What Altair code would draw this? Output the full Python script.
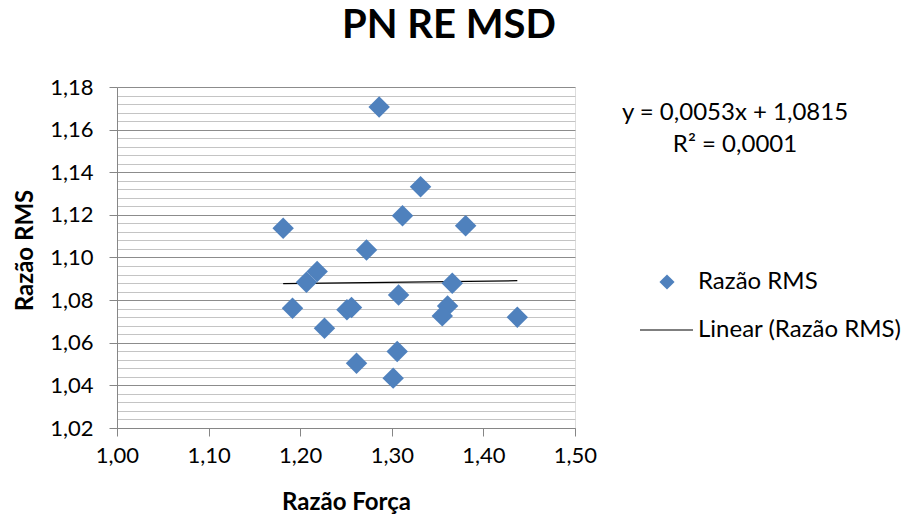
import altair as alt
import pandas as pd

# ---- data ----
forca = [1.2862, 1.3314, 1.3117, 1.3806, 1.1814, 1.2724, 1.2185, 1.2068,
         1.3660, 1.3074, 1.1916, 1.2510, 1.2560, 1.3609, 1.3551, 1.4370,
         1.2265, 1.3059, 1.2615, 1.3015]
rms = [1.1706, 1.1332, 1.1196, 1.1149, 1.1137, 1.1035, 1.0934, 1.0884,
       1.0879, 1.0824, 1.0762, 1.0755, 1.0765, 1.0773, 1.0726, 1.0720,
       1.0668, 1.0559, 1.0504, 1.0434]
slope = 0.0053
intercept = 1.0815
x_ticks = [1.00, 1.10, 1.20, 1.30, 1.40, 1.50]
y_ticks = [1.02, 1.04, 1.06, 1.08, 1.10, 1.12, 1.14, 1.16, 1.18]
y_minor = [round(1.02 + 0.004 * i, 3) for i in range(41) if i % 5 != 0]
equation_lines = ["y = 0,0053x + 1,0815", "R² = 0,0001"]
legend_labels = ["Razão RMS", "Linear (Razão RMS)"]

df = pd.DataFrame({"forca": forca, "rms": rms})
trend = pd.DataFrame({"forca": [min(forca), max(forca)]})
trend["rms"] = intercept + slope * trend["forca"]
one = pd.DataFrame({"a": [0]})

FONT = "Lato"
BLUE = "#4F81BD"
W, H = 458, 341
label_expr = "replace(format(datum.value, '.2f'), '.', ',')"

xscale = alt.Scale(domain=[1.0, 1.5], nice=False, zero=False)
yscale = alt.Scale(domain=[1.02, 1.18], nice=False, zero=False)

x_enc = alt.X("forca:Q", scale=xscale,
              axis=alt.Axis(values=x_ticks, labelExpr=label_expr, title="Razão Força",
                            grid=False, domainColor="#868686", tickColor="#868686",
                            tickSize=8, labelFontSize=22, labelFont=FONT, labelColor="#000000",
                            labelPadding=9, labelFlush=False,
                            titleFontSize=24, titleFont=FONT,
                            titleFontWeight="bold", titleColor="#000000", titlePadding=24))

minor = alt.Chart(df).mark_point(opacity=0).encode(
    x=x_enc,
    y=alt.Y("rms:Q", scale=yscale,
            axis=alt.Axis(values=y_minor, grid=True, gridColor="#c4c4c4", gridWidth=1,
                          labels=False, ticks=False, domain=False, title="", orient="left")),
)

trend_line = alt.Chart(trend).mark_line(color="#000000", strokeWidth=1.3).encode(
    x=x_enc,
    y=alt.Y("rms:Q", scale=yscale,
            axis=alt.Axis(values=y_ticks, grid=False, labels=False, ticks=False,
                          domain=False, title="", orient="left")),
)

points = alt.Chart(df).mark_point(shape="diamond", filled=True, size=460,
                                  color=BLUE, opacity=1).encode(
    x=x_enc,
    y=alt.Y("rms:Q", scale=yscale,
            axis=alt.Axis(values=y_ticks, labelExpr=label_expr, title="Razão RMS",
                          grid=True, gridColor="#8c8c8c", gridWidth=1,
                          domainColor="#868686", tickColor="#868686", tickSize=8,
                          labelFontSize=22, labelFont=FONT, labelColor="#000000",
                          labelPadding=16, labelFlush=False,
                          titleFontSize=24, titleFont=FONT, titleY=163,
                          titleFontWeight="bold", titleColor="#000000", titlePadding=12,
                          orient="left")),
)

eq1 = alt.Chart(one).mark_text(text=equation_lines[0], font=FONT, fontSize=24,
                               align="center", baseline="middle", color="#000000").encode(
    x=alt.value(618), y=alt.value(26))
eq2 = alt.Chart(one).mark_text(text=equation_lines[1], font=FONT, fontSize=24,
                               align="center", baseline="middle", color="#000000").encode(
    x=alt.value(618), y=alt.value(58))

leg_sym = alt.Chart(one).mark_point(shape="diamond", filled=True, size=230,
                                    color=BLUE, opacity=1).encode(
    x=alt.value(550), y=alt.value(195))
leg_txt1 = alt.Chart(one).mark_text(text=legend_labels[0], font=FONT, fontSize=24,
                                    align="left", baseline="middle", color="#000000").encode(
    x=alt.value(581), y=alt.value(195))
leg_rule = alt.Chart(one).mark_rule(color="#000000", strokeWidth=1.2).encode(
    x=alt.value(523), x2=alt.value(576), y=alt.value(243))
leg_txt2 = alt.Chart(one).mark_text(text=legend_labels[1], font=FONT, fontSize=24,
                                    align="left", baseline="middle", color="#000000").encode(
    x=alt.value(581), y=alt.value(243))

chart = alt.layer(
    minor, trend_line, points, eq1, eq2, leg_sym, leg_txt1, leg_rule, leg_txt2
).resolve_axis(y="independent").properties(
    width=W, height=H,
    title=alt.TitleParams("PN RE MSD", font=FONT, fontSize=40, fontWeight="bold",
                          color="#000000", anchor="middle", dx=103, offset=30),
    autosize=alt.AutoSizeParams(type="none"),
    padding={"left": 117, "top": 87, "right": 334, "bottom": 91},
).configure_view(stroke=None).configure(background="white")

chart.save("out.html", embed_options={"renderer": "svg", "actions": False})
